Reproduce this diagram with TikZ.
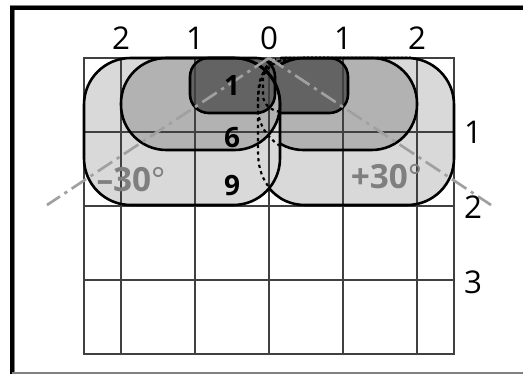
\documentclass[tikz,border=0pt]{standalone}
\usepackage{fontspec}
\setmainfont{Open Sans}
\usepackage{xcolor}
\usetikzlibrary{positioning}
\definecolor{lobeLight}{HTML}{D9D9D9}
\definecolor{lobeMid}{HTML}{B2B2B2}
\definecolor{lobeDark}{HTML}{636363}
\definecolor{gridGray}{HTML}{404040}
\definecolor{axisGray}{HTML}{A0A0A0}
\definecolor{angleGray}{HTML}{7F7F7F}

\begin{document}
\begin{tikzpicture}[
  x=0.75pt,y=-0.75pt,
  framegray/.style={line width=3.75pt,color=gray},
  frameblack/.style={line width=3pt,color=black},
  gridline/.style={line width=1pt,color=gridGray},
  outline/.style={line width=1.95pt,color=black},
  hidden/.style={line width=1.6pt,color=black,dash pattern=on 2.4pt off 2.6pt},
  bigfill/.style={fill=lobeLight,rounded corners=35pt},
  midfill/.style={fill=lobeMid,rounded corners=34pt},
  smallfill/.style={fill=lobeDark,rounded corners=14pt},
  axisline/.style={line width=2pt,color=axisGray,dash pattern=on 13pt off 4pt on 2.5pt off 4pt},
  scalelabel/.style={font=\fontsize{23.5}{25}\selectfont,color=black,inner sep=0pt},
  countlabel/.style={font=\fontsize{21}{23}\selectfont\bfseries,color=black,inner sep=0pt},
  anglelabel/.style={font=\fontsize{25}{27}\selectfont\bfseries,color=angleGray,inner sep=0pt}
]
\useasboundingbox (0,0) rectangle (523,374);
\fill[white] (0,0) rectangle (523,374);
% frame
\draw[framegray] (12.5,374) -- (12.5,8) -- (523,8);
\draw[frameblack] (12,374) -- (12,8.5) -- (523,8.5);
\draw[line width=0.9pt,color=gray] (12,373) -- (523,373);
% right lobes
\fill[bigfill] (258,58) rectangle (454,205);
\fill[midfill] (258,58) rectangle (417,150);
\fill[smallfill] (263,58) rectangle (348,113);
% left lobes
\fill[bigfill] (84,58) rectangle (280,205);
\fill[midfill] (121,58) rectangle (280,150);
\fill[smallfill] (190,58) rectangle (275,113);
% grid
\draw[gridline] (84,58) rectangle (454,354);
\draw[gridline] (121,58) -- (121,354);
\draw[gridline] (195,58) -- (195,354);
\draw[gridline] (269,58) -- (269,354);
\draw[gridline] (343,58) -- (343,354);
\draw[gridline] (417,58) -- (417,354);
\draw[gridline] (84,132) -- (454,132);
\draw[gridline] (84,206) -- (454,206);
\draw[gridline] (84,280) -- (454,280);
% right outlines, seen part
\begin{scope}
\clip (280,40) rectangle (470,220);
\draw[outline,rounded corners=35pt] (258,58) rectangle (454,205);
\draw[outline,rounded corners=34pt] (258,58) rectangle (417,150);
\draw[outline,rounded corners=14pt] (263,58) rectangle (348,113);
\end{scope}
\begin{scope}
\clip (258,170) rectangle (280,210);
\draw[outline] (269,188) .. controls (277,198) and (290,205) .. (305,205);
\end{scope}
% right outlines, hidden part
\draw[hidden] (268,186) .. controls (261,176) and (258,166) .. (258,150) -- (258,100) .. controls (258,78) and (262,62) .. (290,59);
\draw[hidden] (280,146) .. controls (268,138) and (258,125) .. (258,108) -- (258,100) .. controls (259,80) and (264,66) .. (282,60);
\draw[hidden] (280,112) .. controls (270,110) and (263,104) .. (263,95) -- (263,78) .. controls (264,70) and (266,63) .. (276,59);
\draw[line width=0.8pt,color=gray,dash pattern=on 1.5pt off 1.5pt] (285,56.5) -- (412,56.5);
% left outlines
\draw[outline,rounded corners=35pt] (84,58) rectangle (280,205);
\draw[outline,rounded corners=34pt] (121,58) rectangle (280,150);
\draw[outline,rounded corners=14pt] (190,58) rectangle (275,113);
% angle axes
\coordinate (apex) at (269,58);
\coordinate (endL) at (47,205);
\coordinate (endR) at (491,205);
\draw[axisline] (apex) -- (endL);
\draw[axisline] (apex) -- (endR);
% labels
\node[scalelabel] (topL2) at (121,38) {2};
\node[scalelabel] (topL1) at (195,38) {1};
\node[scalelabel] (top0) at (269,38) {0};
\node[scalelabel] (topR1) at (343,38) {1};
\node[scalelabel] (topR2) at (417,38) {2};
\node[scalelabel] (side1) at (473,132) {1};
\node[scalelabel] (side2) at (473,207) {2};
\node[scalelabel] (side3) at (473,282) {3};
\node[countlabel] (count1) at (232,86) {1};
\node[countlabel] (count6) at (232,138) {6};
\node[countlabel] (count9) at (232,186) {9};
\node[anglelabel] (angleL) at (131,180) {–30{\mdseries°}};
\node[anglelabel] (angleR) at (386.5,177) {+30{\mdseries°}};
\end{tikzpicture}
\end{document}
